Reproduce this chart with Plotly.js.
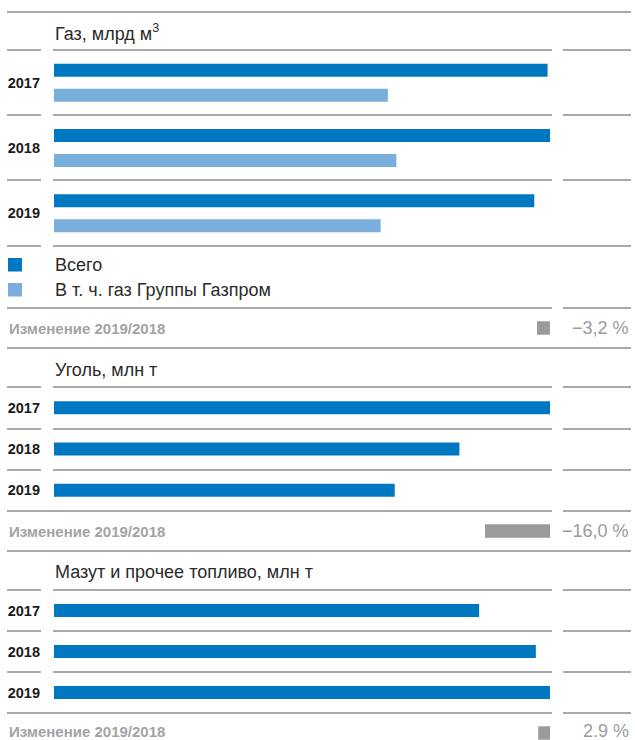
<!DOCTYPE html>
<html>
<head>
<meta charset="utf-8">
<script src="https://cdn.plot.ly/plotly-3.0.1.min.js"></script>
<style>
  html, body { margin: 0; padding: 0; background: #ffffff; }
  #chart { width: 635px; height: 740px; }
</style>
</head>
<body>
<div id="chart"></div>
<script>
// ---------------- DATA ----------------
const years = ['2017', '2018', '2019'];
const seriesNames = ['Всего', 'В т. ч. газ Группы Газпром'];
const gasTotal = [40.8, 41.0, 39.7];
const gasGroup = [27.6, 28.3, 27.0];
const coal = [11.5, 9.4, 7.9];
const mazut = [0.30, 0.34, 0.35];          // bar lengths as drawn
const mazutLabels = ['0,33', '0,34', '0,35']; // printed values
const sectionTitles = ['Газ, млрд м<sup>3</sup>', 'Уголь, млн т', 'Мазут и прочее топливо, млн т'];
const changeTitle = 'Изменение 2019/2018';
const changeValues = [-3.2, -16.0, 2.9];
const changeLabels = ['−3,2 %', '−16,0 %', '2.9 %'];

// ---------------- STYLE / LAYOUT CONSTANTS ----------------
const W = 635, H = 740;
const FONT = 'Liberation Sans, Arial, Helvetica, sans-serif';
const DARK = '#0078c1', LIGHT = '#7aaedc', GREY = '#9b9b9d';
const TEXT = '#2b2b2b', LINE = '#555555';
const BAR_X0 = 54, BAR_X1 = 550, CHG_X0 = 485, VAL_X = 631;
const BAR_PX = 13, GROUP_SHIFT = 12.5;
const FS = 18;
const xp = p => p / W;
const yp = p => 1 - p / H;
const fmt = v => v.toFixed(1).replace('.', ',');

const sections = [
  { titleY: 33, top: 50, bottom: 246 },
  { titleY: 370, top: 387, bottom: 511 },
  { titleY: 572, top: 590, bottom: 713 }
];
const changeRows = [{ top: 308, h: 40 }, { top: 511, h: 40 }, { top: 713, h: 40 }];
const legendRows = [265, 290];

// ---------------- TRACES ----------------
const pxPerCat = sections.map(s => (s.bottom - s.top) / years.length);
const wGas = BAR_PX / pxPerCat[0];
const shiftGas = GROUP_SHIFT / pxPerCat[0];
const base = { type: 'bar', orientation: 'h', hoverinfo: 'skip', showlegend: false };

const traces = [
  Object.assign({}, base, { x: gasTotal, y: years, xaxis: 'x', yaxis: 'y', width: wGas,
    offset: -shiftGas - wGas / 2, marker: { color: DARK }, name: seriesNames[0] }),
  Object.assign({}, base, { x: gasGroup, y: years, xaxis: 'x', yaxis: 'y', width: wGas,
    offset: shiftGas - wGas / 2, marker: { color: LIGHT }, name: seriesNames[1] }),
  Object.assign({}, base, { x: coal, y: years, xaxis: 'x2', yaxis: 'y2',
    width: BAR_PX / pxPerCat[1], marker: { color: DARK } }),
  Object.assign({}, base, { x: mazut, y: years, xaxis: 'x3', yaxis: 'y3',
    width: BAR_PX / pxPerCat[2], marker: { color: DARK } })
];
changeValues.forEach((v, i) => {
  traces.push(Object.assign({}, base, { x: [Math.abs(v)], y: [changeTitle], xaxis: 'x4',
    yaxis: 'y' + (4 + i), width: 13.5 / changeRows[i].h, marker: { color: GREY } }));
});

// ---------------- LAYOUT ----------------
const yTick = { type: 'category', range: [years.length - 0.5, -0.5], showgrid: false, zeroline: false,
  showline: false, ticks: '', ticklabelstandoff: 13,
  tickfont: { family: FONT, size: 14.5, color: '#1a1a1a', weight: 'bold' }, fixedrange: true };
const xHidden = { visible: false, fixedrange: true, showgrid: false, zeroline: false };

const layout = {
  width: W, height: H, margin: { l: 0, r: 0, t: 0, b: 0 },
  paper_bgcolor: '#ffffff', plot_bgcolor: 'rgba(0,0,0,0)',
  barmode: 'overlay', showlegend: false, font: { family: FONT, color: TEXT },
  annotations: [], shapes: []
};
const maxes = [Math.max(...gasTotal, ...gasGroup), Math.max(...coal), Math.max(...mazut)];
['', '2', '3'].forEach((s, i) => {
  layout['xaxis' + s] = Object.assign({}, xHidden, { domain: [xp(BAR_X0), xp(BAR_X1)],
    range: [0, maxes[i]], anchor: 'y' + s });
  layout['yaxis' + s] = Object.assign({}, yTick, { domain: [yp(sections[i].bottom), yp(sections[i].top)],
    anchor: 'x' + s });
});
const maxChange = Math.max(...changeValues.map(Math.abs));
layout.xaxis4 = Object.assign({}, xHidden, { domain: [xp(CHG_X0), xp(BAR_X1)], range: [maxChange, 0], anchor: 'y4' });
changeRows.forEach((r, i) => {
  const vis = Math.min(r.h, H - r.top);
  layout['yaxis' + (4 + i)] = { type: 'category', visible: false, fixedrange: true, anchor: 'x4',
    domain: [yp(r.top + vis), yp(r.top)], range: [-0.5 + vis / r.h, -0.5] };
});

// section titles
sections.forEach((s, i) => {
  layout.annotations.push({ xref: 'paper', yref: 'paper', x: xp(53), y: yp(s.titleY), xanchor: 'left',
    yanchor: 'middle', text: sectionTitles[i], showarrow: false, font: { family: FONT, size: FS, color: TEXT } });
});
// value labels
const valAnn = (text, yref, yv, shift) => ({ xref: 'paper', yref: yref, x: xp(VAL_X), y: yv, xanchor: 'right',
  yanchor: 'middle', yshift: shift, text: text, showarrow: false, font: { family: FONT, size: FS, color: TEXT } });
years.forEach((yr, i) => {
  layout.annotations.push(valAnn(fmt(gasTotal[i]), 'y', yr, GROUP_SHIFT));
  layout.annotations.push(valAnn(fmt(gasGroup[i]), 'y', yr, -GROUP_SHIFT));
  layout.annotations.push(valAnn(fmt(coal[i]), 'y2', yr, 0));
  layout.annotations.push(valAnn(mazutLabels[i], 'y3', yr, 0));
});
// change rows
changeRows.forEach((r, i) => {
  const lift = (r.top + r.h > H) ? 2 : 0;
  layout.annotations.push({ xref: 'paper', yref: 'y' + (4 + i), x: xp(7), y: changeTitle, xanchor: 'left',
    yanchor: 'middle', yshift: lift, text: '<b>' + changeTitle + '</b>', showarrow: false,
    font: { family: FONT, size: 15, color: '#a3a3a5' } });
  layout.annotations.push({ xref: 'paper', yref: 'y' + (4 + i), x: xp(VAL_X), y: changeTitle, xanchor: 'right',
    yanchor: 'middle', yshift: lift, text: changeLabels[i], showarrow: false,
    font: { family: FONT, size: FS, color: GREY } });
});
// legend
const legColors = [DARK, LIGHT];
legendRows.forEach((ly, i) => {
  layout.shapes.push({ type: 'rect', xref: 'paper', yref: 'paper', x0: xp(8), x1: xp(22),
    y0: yp(ly - 7), y1: yp(ly + 6.5), fillcolor: legColors[i], line: { width: 0 } });
  layout.annotations.push({ xref: 'paper', yref: 'paper', x: xp(53), y: yp(ly), xanchor: 'left',
    yanchor: 'middle', text: seriesNames[i], showarrow: false, font: { family: FONT, size: FS, color: TEXT } });
});
// rule lines
const SEG = { A: [7, 41], B: [53, 552], C: [563, 631], L: [7, 552], R: [53, 631], F: [7, 631] };
const rules = [
  [12, 'F'], [50, 'ABC'], [115, 'ABC'], [180, 'ABC'], [246, 'AR'], [308, 'LC'], [348, 'F'],
  [387, 'ABC'], [429, 'ABC'], [470, 'ABC'], [511, 'LC'], [551, 'F'],
  [590, 'ABC'], [631, 'ABC'], [672, 'ABC'], [713, 'LC']
];
rules.forEach(([py, segs]) => {
  segs.split('').forEach(k => {
    layout.shapes.push({ type: 'line', xref: 'paper', yref: 'paper', x0: xp(SEG[k][0]), x1: xp(SEG[k][1]),
      y0: yp(py), y1: yp(py), line: { color: LINE, width: 1.2 }, layer: 'below' });
  });
});

Plotly.newPlot('chart', traces, layout, { displayModeBar: false, staticPlot: true });
</script>
</body>
</html>
